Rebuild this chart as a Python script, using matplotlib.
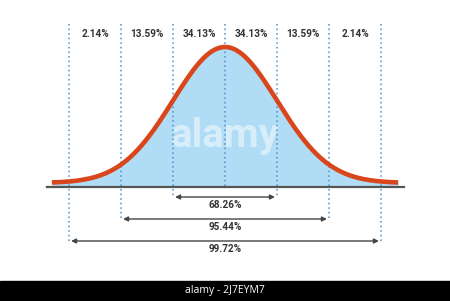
import numpy as np
import matplotlib.pyplot as plt

# sigma boundaries and the share of each band
bounds = [-3, -2, -1, 0, 1, 2, 3]
band_mid = [-2.5, -1.5, -0.5, 0.5, 1.5, 2.5]
band_pct = ['2.14%', '13.59%', '34.13%', '34.13%', '13.59%', '2.14%']
span_sigma = [1, 2, 3]
span_pct = ['68.26%', '95.44%', '99.72%']

px = 0.399 / 136.0          # one pixel in data units (vertical)
lift = 4 * px               # curve sits a little above the axis line

z = np.linspace(-3.33, 3.33, 400)
pdf = np.exp(-z**2 / 2) / np.sqrt(2 * np.pi) + lift

fig = plt.figure(figsize=(4.5, 3.01), dpi=100)
ax = fig.add_axes([0, 0, 1, 1])
ax.set_xlim(-225 / 52, 225 / 52)
ax.set_ylim(-114 * px, 187 * px)
ax.axis('off')

ax.fill_between(z, 0, pdf, color='#b0dcf5', lw=0, zorder=1)

# watermark
ax.text(0, 51 * px, 'alamy', color='white', alpha=0.5, ha='center', va='center',
        fontsize=29, fontweight='bold', family='Roboto', zorder=2)

# dotted sigma lines
bottoms = {0: 0, 1: -11, 2: -34, 3: -56}
for b in bounds:
    ax.plot([b, b], [163 * px, bottoms[abs(b)] * px], color='#4a90cc',
            lw=1.1, ls=(0, (1, 2)), zorder=3)

ax.plot([-3.42, 3.44], [0, 0], color='#555555', lw=1.6, zorder=4)
ax.plot(z, pdf, color='#d9461b', lw=3.3, solid_capstyle='butt', zorder=5)

lab = dict(ha='center', va='center', fontsize=7.2, fontweight='bold',
           color='#333333', family='Roboto')
for m, t in zip(band_mid, band_pct):
    ax.text(m, 153 * px, t, **lab)

arrow_y = [-10, -32, -54]
text_y = [-18, -40, -62]
for s, t, ay, ty in zip(span_sigma, span_pct, arrow_y, text_y):
    ax.annotate('', xy=(s - 0.04, ay * px), xytext=(-s + 0.04, ay * px),
                arrowprops=dict(arrowstyle='<|-|>', mutation_scale=7, lw=1,
                                color='#444444', shrinkA=0, shrinkB=0))
    ax.text(0, ty * px, t, **lab)

# black strip at the bottom
fig.patches.append(plt.Rectangle((0, 0), 1, 20 / 301, transform=fig.transFigure,
                                 color='black', zorder=10))
fig.text(0.5, 10 / 301, 'alamy - 2J7EYM7', color='white', ha='center',
         va='center', fontsize=7.5, family='Open Sans', zorder=11)

fig.savefig('out.png', dpi=100, facecolor='white')
